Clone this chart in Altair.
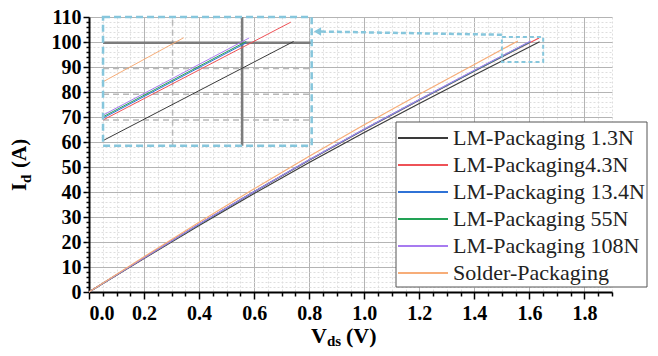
import altair as alt
import pandas as pd

# ---------------- data ----------------
series_names = ["LM-Packaging 1.3N", "LM-Packaging4.3N", "LM-Packaging 13.4N",
                "LM-Packaging 55N", "LM-Packaging 108N", "Solder-Packaging"]
series_colors = ["#3a3a3a", "#ee5257", "#2f72d6", "#22a255", "#a77bf0", "#f7ad78"]

vds_points = [0.0, 0.2, 0.4, 0.6, 0.8, 1.0, 1.2, 1.4, 1.5]
id_1_3N = [0, 13.4, 26.6, 39.4, 51.8, 63.8, 75.4, 86.8, 92.4]
id_4_3N = [0, 13.6, 27.1, 40.1, 52.7, 64.9, 76.7, 88.3, 94.0]
id_13_4N = [0, 13.7, 27.1, 40.1, 52.8, 65.0, 76.8, 88.4, 94.15]
id_55N = [0, 13.7, 27.1, 40.2, 52.8, 65.1, 76.9, 88.5, 94.25]
id_108N = [0, 13.7, 27.2, 40.2, 52.9, 65.2, 77.0, 88.7, 94.38]
id_solder = [0, 14.1, 27.9, 41.3, 54.3, 66.9, 79.1, 91.0, 96.97]
vds_last = [1.637, 1.635, 1.603, 1.603, 1.605, 1.558]
id_last = [100.1, 101.6, 100.0, 100.1, 100.37, 100.39]

x_domain = [0, 1.9]
y_domain = [0, 110]
# zoomed region (data) and where the inset is drawn (in main-axis units)
zoom_vds = [1.5, 1.65]
zoom_id = [92, 102]
inset_vds = [0.051, 0.809]
inset_id = [58.5, 110]
inset_major_vds = [1.6]
inset_minor_vds = [1.55]
inset_major_id = [100]
inset_minor_id = [94, 96, 98]
arrow_vds = [1.5, 0.83]
arrow_id = [102.9, 104.2]

x_title = ["V", "ds", "(V)"]
y_title = ["I", "d", "(A)"]

# ---------------- tables ----------------
all_ids = [id_1_3N, id_4_3N, id_13_4N, id_55N, id_108N, id_solder]
rows = []
for name, vals, xe, ye in zip(series_names, all_ids, vds_last, id_last):
    for i, (xv, yv) in enumerate(zip(vds_points, vals)):
        rows.append({"series": name, "vds": xv, "id": yv, "ord": i})
    rows.append({"series": name, "vds": xe, "id": ye, "ord": len(vals)})
df = pd.DataFrame(rows)

legend_df = pd.DataFrame({"series": series_names, "row": list(range(len(series_names)))})
box_df = pd.DataFrame({"x1": [zoom_vds[0]], "x2": [zoom_vds[1]], "y1": [zoom_id[0]], "y2": [zoom_id[1]]})
inset_box_df = pd.DataFrame({"x1": [inset_vds[0]], "x2": [inset_vds[1]], "y1": [inset_id[0]], "y2": [inset_id[1]]})
arrow_df = pd.DataFrame({"vds": arrow_vds, "id": arrow_id, "ord": [0, 1]})
one = pd.DataFrame({"a": [0]})

color_enc = alt.Color("series:N", scale=alt.Scale(domain=series_names, range=series_colors), legend=None)
BLUE = "#86c6dc"
SERIF = "Liberation Serif, Times New Roman, serif"

# inset mapping expressions (zoomed data -> main-axis units)
kx = (inset_vds[1] - inset_vds[0]) / (zoom_vds[1] - zoom_vds[0])
ky = (inset_id[1] - inset_id[0]) / (zoom_id[1] - zoom_id[0])
def fx(f):
    return f"{inset_vds[0]} + ({f} - {zoom_vds[0]}) * {kx}"
def fy(f):
    return f"{inset_id[0]} + ({f} - {zoom_id[0]}) * {ky}"

# ---------------- axes ----------------
x_vals = [round(i * 0.05, 2) for i in range(39)]
y_vals = list(range(0, 111, 2))
mx = "abs(datum.value*5 - round(datum.value*5)) < 0.001"
my = "datum.value % 10 == 0"

x_axis = alt.Axis(
    values=x_vals, title=None,
    labelExpr=f"({mx}) ? format(datum.value, '.1f') : ''",
    tickSize={"condition": {"test": mx, "value": 7}, "value": 4},
    gridColor={"condition": {"test": mx, "value": "#b4b4b4"}, "value": "#dedede"},
    gridDash={"condition": {"test": mx, "value": []}, "value": [2, 2]},
    labelOverlap=False, labelPadding=4,
    labelFont=SERIF, labelFontWeight="bold", labelFontSize=20, labelColor="black",
)
y_axis = alt.Axis(
    values=y_vals, title=None,
    labelExpr=f"({my}) ? format(datum.value, 'd') : ''",
    tickSize={"condition": {"test": my, "value": 6}, "value": 3},
    gridColor={"condition": {"test": my, "value": "#b4b4b4"}, "value": "#dedede"},
    gridDash={"condition": {"test": my, "value": []}, "value": [2, 2]},
    labelOverlap=False, labelPadding=2,
    labelFont=SERIF, labelFontWeight="bold", labelFontSize=20, labelColor="black",
)
xs = alt.Scale(domain=x_domain, nice=False, zero=False)
ys = alt.Scale(domain=y_domain, nice=False, zero=False)

def X(f):
    return alt.X(f, type="quantitative", scale=xs, axis=x_axis)
def Y(f):
    return alt.Y(f, type="quantitative", scale=ys, axis=y_axis)
def XD(v):
    return alt.XDatum(v, type="quantitative", scale=xs, axis=x_axis)
def YD(v):
    return alt.YDatum(v, type="quantitative", scale=ys, axis=y_axis)

# ---------------- main plot ----------------
main_lines = alt.Chart(df).mark_line(strokeWidth=1.2).encode(
    x=X("vds"), y=Y("id"), color=color_enc, order="ord:Q",
)
small_box = alt.Chart(box_df).mark_rect(fillOpacity=0, stroke=BLUE, strokeWidth=2, strokeDash=[4, 3]).encode(
    x=X("x1"), x2="x2:Q", y=Y("y1"), y2="y2:Q"
)
arrow_line = alt.Chart(arrow_df).mark_line(color=BLUE, strokeWidth=2.5, strokeDash=[5, 3]).encode(
    x=X("vds"), y=Y("id"), order="ord:Q"
)
arrow_head = alt.Chart(arrow_df).transform_filter(alt.datum.ord == 1).mark_point(
    shape="triangle-left", filled=True, color=BLUE, size=70, opacity=1
).encode(x=X("vds"), y=Y("id"))

# ---------------- inset ----------------
vmin = alt.Chart(pd.DataFrame({"v": inset_minor_vds})).transform_calculate(px=fx("datum.v")).mark_rule(
    color="#b8b8b8", strokeWidth=1.5, strokeDash=[6, 4]).encode(
    x=X("px"), y=YD(inset_id[0]), y2=alt.datum(inset_id[1]))
hmin = alt.Chart(pd.DataFrame({"v": inset_minor_id})).transform_calculate(py=fy("datum.v")).mark_rule(
    color="#b8b8b8", strokeWidth=1.5, strokeDash=[6, 4]).encode(
    y=Y("py"), x=XD(inset_vds[0]), x2=alt.datum(inset_vds[1]))
vmaj = alt.Chart(pd.DataFrame({"v": inset_major_vds})).transform_calculate(px=fx("datum.v")).mark_rule(
    color="#7c7c7c", strokeWidth=2.5).encode(
    x=X("px"), y=YD(inset_id[0]), y2=alt.datum(inset_id[1]))
hmaj = alt.Chart(pd.DataFrame({"v": inset_major_id})).transform_calculate(py=fy("datum.v")).mark_rule(
    color="#7c7c7c", strokeWidth=2.5).encode(
    y=Y("py"), x=XD(inset_vds[0]), x2=alt.datum(inset_vds[1]))
inset_lines = alt.Chart(df).transform_filter(alt.datum.vds >= zoom_vds[0]).transform_calculate(
    px=fx("datum.vds"), py=fy("datum.id")
).mark_line(strokeWidth=1).encode(
    x=X("px"), y=Y("py"), color=color_enc, order="ord:Q",
)
inset_box = alt.Chart(inset_box_df).mark_rect(fillOpacity=0, stroke=BLUE, strokeWidth=2.5, strokeDash=[7, 4]).encode(
    x=X("x1"), x2="x2:Q", y=Y("y1"), y2="y2:Q")

# ---------------- legend (pixel placement) ----------------
leg_box = alt.Chart(one).mark_rect(fill="white", stroke="#555555", strokeWidth=1).encode(
    x=alt.value(307), x2=alt.value(558), y=alt.value(105), y2=alt.value(270))
leg_layers = []
for i, name in enumerate(series_names):
    sub = legend_df[legend_df.row == i]
    leg_layers.append(alt.Chart(sub).mark_rule(strokeWidth=2).encode(
        x=alt.value(309), x2=alt.value(359), y=alt.value(121 + 27 * i), color=color_enc))
    leg_layers.append(alt.Chart(sub).mark_text(
        align="left", baseline="middle", font=SERIF, fontSize=22, color="#222222"
    ).encode(x=alt.value(364), y=alt.value(121 + 27 * i), text="series:N"))

# ---------------- axis titles ----------------
def txt(s, x, y, size, angle=0):
    return alt.Chart(one).mark_text(align="left", baseline="alphabetic", angle=angle, font=SERIF,
                                    fontWeight="bold", fontSize=size, color="black").encode(
        x=alt.value(x), y=alt.value(y), text=alt.value(s))

titles = [
    txt(x_title[0], 222, 326, 22), txt(x_title[1], 238, 329, 15), txt(x_title[2], 257, 326, 22),
    txt(y_title[0], -63, 174, 21, 270), txt(y_title[1], -58, 166, 15, 270), txt(y_title[2], -63, 151, 21, 270),
]

chart = alt.layer(
    main_lines, small_box, arrow_line, arrow_head,
    vmin, hmin, vmaj, hmaj, inset_lines, inset_box,
    leg_box, *leg_layers, *titles
).properties(
    width=523, height=275,
    padding={"left": 81, "top": 9, "right": 38, "bottom": 56},
    autosize=alt.AutoSizeParams(type="none"),
).configure_view(stroke=None).configure_axis(
    domainColor="black", domainWidth=2, tickColor="black", tickWidth=1.5, gridWidth=1,
)

chart.save("out.html", embed_options={"renderer": "svg", "actions": False})
